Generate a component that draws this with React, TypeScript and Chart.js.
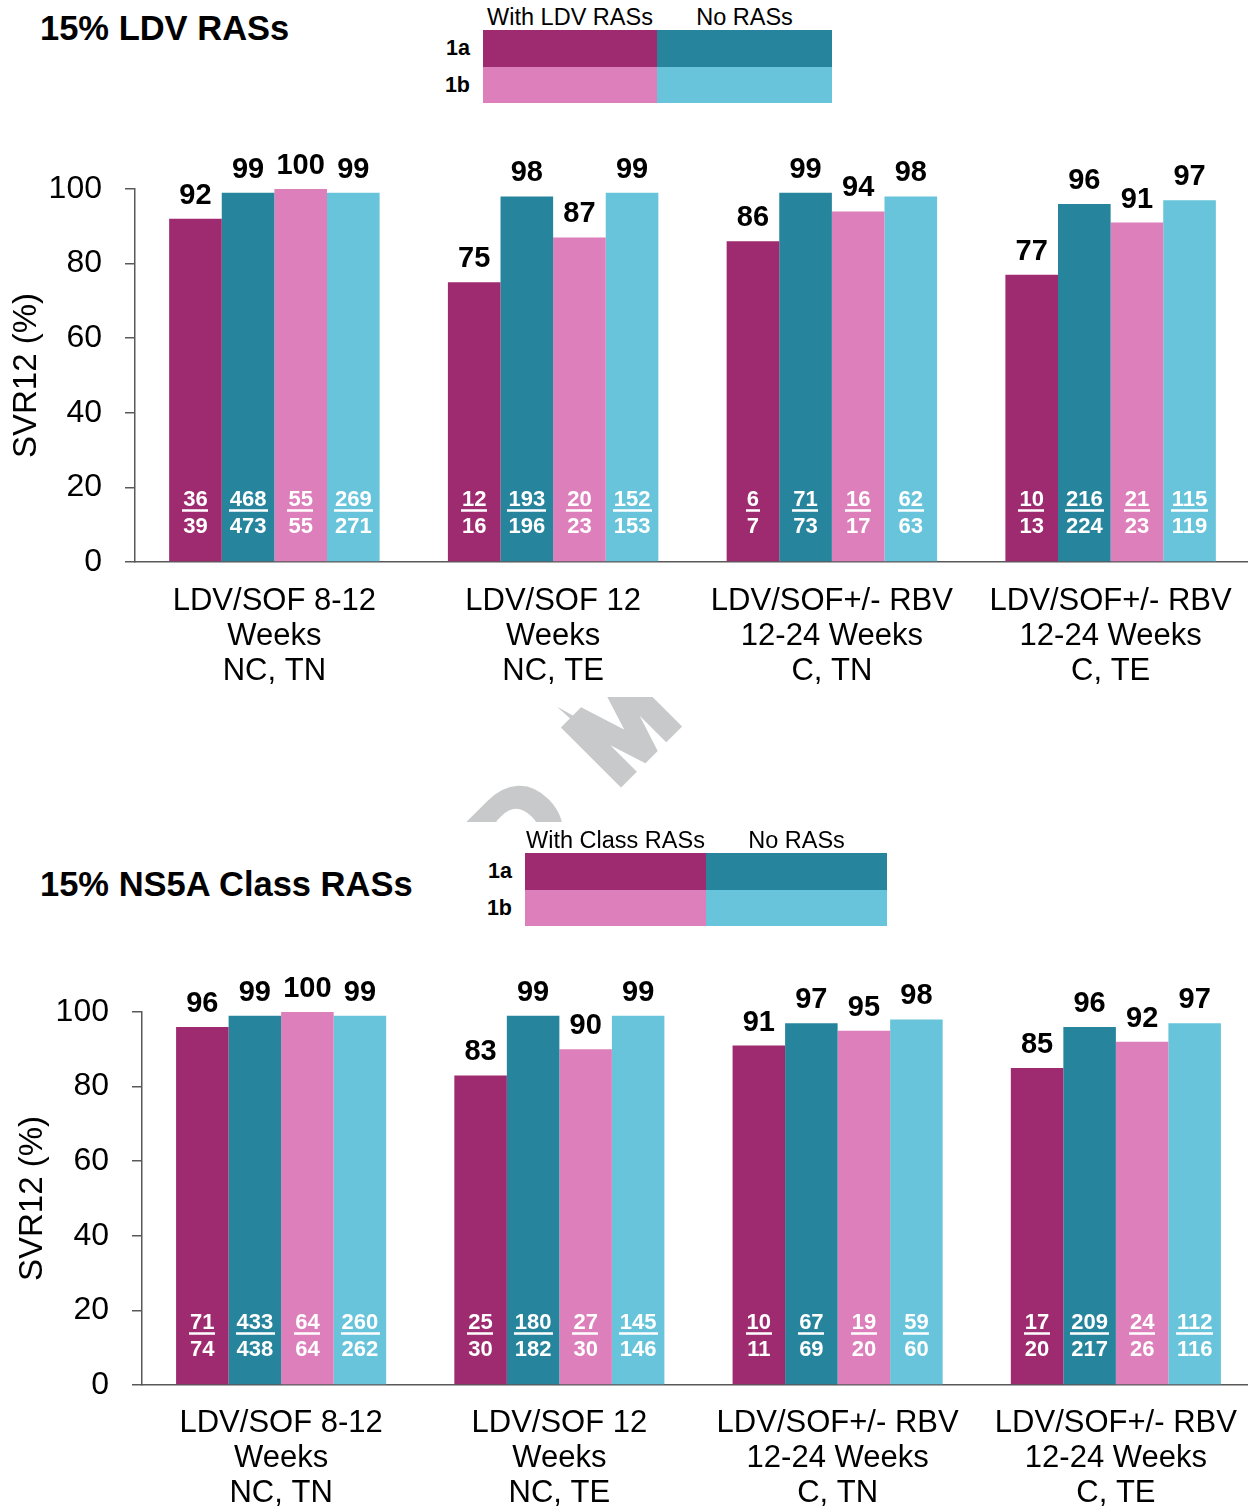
import React, { useEffect, useRef } from 'react';
import { Chart, registerables } from 'chart.js';

Chart.register(...registerables);

const FONT = "'Liberation Sans', Arial, Helvetica, sans-serif";

// ---------- data ----------
const categories: string[][] = [
  ['LDV/SOF 8-12', 'Weeks', 'NC, TN'],
  ['LDV/SOF 12', 'Weeks', 'NC, TE'],
  ['LDV/SOF+/- RBV', '12-24 Weeks', 'C, TN'],
  ['LDV/SOF+/- RBV', '12-24 Weeks', 'C, TE'],
];
const yMin = 0;
const yMax = 100;
const yStep = 20;
const yTitle = 'SVR12 (%)';

// Panel 1: 15% LDV RASs
const ldvTitle = '15% LDV RASs';
const ldvWithLabel = 'With LDV RASs';
const noRasLabel = 'No RASs';
const ldv1aWith = [92, 75, 86, 77];
const ldv1aWithNum = [36, 12, 6, 10];
const ldv1aWithDen = [39, 16, 7, 13];
const ldv1aNo = [99, 98, 99, 96];
const ldv1aNoNum = [468, 193, 71, 216];
const ldv1aNoDen = [473, 196, 73, 224];
const ldv1bWith = [100, 87, 94, 91];
const ldv1bWithNum = [55, 20, 16, 21];
const ldv1bWithDen = [55, 23, 17, 23];
const ldv1bNo = [99, 99, 98, 97];
const ldv1bNoNum = [269, 152, 62, 115];
const ldv1bNoDen = [271, 153, 63, 119];

// Panel 2: 15% NS5A Class RASs
const clsTitle = '15% NS5A Class RASs';
const clsWithLabel = 'With Class RASs';
const cls1aWith = [96, 83, 91, 85];
const cls1aWithNum = [71, 25, 10, 17];
const cls1aWithDen = [74, 30, 11, 20];
const cls1aNo = [99, 99, 97, 96];
const cls1aNoNum = [433, 180, 67, 209];
const cls1aNoDen = [438, 182, 69, 217];
const cls1bWith = [100, 90, 95, 92];
const cls1bWithNum = [64, 27, 19, 24];
const cls1bWithDen = [64, 30, 20, 26];
const cls1bNo = [99, 99, 98, 97];
const cls1bNoNum = [260, 145, 59, 112];
const cls1bNoDen = [262, 146, 60, 116];

const genotypes = ['1a', '1b'];

// ---------- styles ----------
const C1A_WITH = '#9E2A6F';
const C1A_NO = '#26849C';
const C1B_WITH = '#DC7FBA';
const C1B_NO = '#67C4DA';
const AXIS = '#595959';

type Series = { label: string; values: number[]; num: number[]; den: number[]; color: string };

type PanelProps = {
  series: Series[];
  top: number;
  height: number;
  padTop: number;
  yWidth: number;
  xHeight: number;
  padRight: number;
  yTitleX: number;
  xPad: number;
};

const CANVAS_W = 1270;

function BarPanel(props: PanelProps) {
  const ref = useRef<HTMLCanvasElement | null>(null);
  useEffect(() => {
    if (!ref.current) return;
    const { series, padTop, yWidth, xHeight, padRight, yTitleX, xPad } = props;

    const labelPlugin = {
      id: 'barLabels',
      afterDatasetsDraw(chart: any) {
        const ctx = chart.ctx as CanvasRenderingContext2D;
        chart.data.datasets.forEach((ds: any, i: number) => {
          const meta = chart.getDatasetMeta(i);
          const s = series[i];
          meta.data.forEach((bar: any, j: number) => {
            const { x, y, base } = bar.getProps(['x', 'y', 'base'], true);
            ctx.save();
            ctx.textAlign = 'center';
            ctx.textBaseline = 'alphabetic';
            ctx.fillStyle = '#000';
            ctx.font = `bold 29px ${FONT}`;
            ctx.fillText(String(ds.data[j]), x, y - 15);
            ctx.fillStyle = '#fff';
            ctx.font = `bold 22px ${FONT}`;
            const num = String(s.num[j]);
            const den = String(s.den[j]);
            ctx.fillText(num, x, base - 55);
            const w = ctx.measureText(num).width;
            ctx.fillRect(Math.round(x - w / 2 - 1), base - 52, Math.round(w + 2), 2.5);
            ctx.fillText(den, x, base - 28);
            ctx.restore();
          });
        });
      },
      afterDraw(chart: any) {
        const ctx = chart.ctx as CanvasRenderingContext2D;
        const area = chart.chartArea;
        ctx.save();
        ctx.translate(yTitleX, (area.top + area.bottom) / 2);
        ctx.rotate(-Math.PI / 2);
        ctx.textAlign = 'center';
        ctx.textBaseline = 'middle';
        ctx.fillStyle = '#000';
        ctx.font = `33px ${FONT}`;
        ctx.fillText(yTitle, 0, 0);
        ctx.restore();
      },
    };

    const chart = new Chart(ref.current, {
      type: 'bar',
      data: {
        labels: categories,
        datasets: series.map((s) => ({
          label: s.label,
          data: s.values,
          backgroundColor: s.color,
          borderWidth: 0,
          categoryPercentage: 0.755,
          barPercentage: 1,
        })),
      },
      options: {
        responsive: false,
        animation: false,
        events: [],
        layout: { padding: { top: padTop, right: padRight, left: 0, bottom: 0 } },
        plugins: {
          legend: { display: false },
          title: { display: false },
          tooltip: { enabled: false },
        },
        scales: {
          x: {
            grid: { display: false },
            border: { display: true, color: AXIS, width: 1.5 },
            ticks: {
              color: '#000',
              padding: xPad,
              maxRotation: 0,
              autoSkip: false,
              font: { family: FONT, size: 31, lineHeight: 1.13 },
            },
            afterFit: (s: any) => {
              s.height = xHeight;
            },
          },
          y: {
            min: yMin,
            max: yMax,
            grid: { display: true, drawOnChartArea: false, drawTicks: true, tickLength: 10, color: AXIS, lineWidth: 1.5 },
            border: { display: true, color: AXIS, width: 1.5 },
            ticks: {
              stepSize: yStep,
              color: '#000',
              padding: 23,
              font: { family: FONT, size: 32 },
            },
            afterFit: (s: any) => {
              s.width = yWidth;
            },
          },
        },
      },
      plugins: [labelPlugin as any],
    });
    return () => chart.destroy();
  }, []);
  return (
    <canvas
      ref={ref}
      width={CANVAS_W}
      height={props.height}
      style={{ position: 'absolute', left: 0, top: props.top, width: CANVAS_W, height: props.height }}
    />
  );
}

function Legend({ x, y, colW, withText }: { x: number; y: number; colW: number[]; withText: string }) {
  const rowH = 36.5;
  const rows = [
    [C1A_WITH, C1A_NO],
    [C1B_WITH, C1B_NO],
  ];
  const headers = [withText, noRasLabel];
  return (
    <>
      {headers.map((h, i) => (
        <div
          key={'h' + i}
          style={{
            position: 'absolute',
            left: x + (i === 0 ? 0 : colW[0]),
            top: y - 13 - 12,
            width: colW[i],
            height: 24,
            lineHeight: '24px',
            textAlign: 'center',
            fontSize: 23.5,
            color: '#000',
            whiteSpace: 'nowrap',
          }}
        >
          {h}
        </div>
      ))}
      {rows.map((r, ri) => (
        <React.Fragment key={'r' + ri}>
          <div
            style={{
              position: 'absolute',
              left: x - 13 - 40,
              top: y + ri * rowH,
              width: 40,
              height: rowH,
              lineHeight: rowH + 'px',
              textAlign: 'right',
              fontSize: 21.5,
              fontWeight: 'bold',
              color: '#000',
            }}
          >
            {genotypes[ri]}
          </div>
          {r.map((c, ci) => (
            <div
              key={ci}
              style={{
                position: 'absolute',
                left: x + (ci === 0 ? 0 : colW[0]),
                top: y + ri * rowH,
                width: colW[ci],
                height: rowH,
                background: c,
              }}
            />
          ))}
        </React.Fragment>
      ))}
    </>
  );
}

function Watermark() {
  const ref = useRef<HTMLCanvasElement | null>(null);
  useEffect(() => {
    const cv = ref.current;
    if (!cv) return;
    const ctx = cv.getContext('2d');
    if (!ctx) return;
    ctx.clearRect(0, 0, cv.width, cv.height);
    ctx.save();
    ctx.translate(180, 86);
    ctx.rotate(-Math.PI / 4);
    ctx.font = `bold 112px ${FONT}`;
    ctx.fillStyle = '#C8C9CB';
    ctx.strokeStyle = '#C8C9CB';
    ctx.lineWidth = 8;
    ctx.lineJoin = 'miter';
    ctx.fillText('M', -6, 0);
    ctx.strokeText('M', -6, 0);
    ctx.fillText('D', -142, 0);
    ctx.strokeText('D', -142, 0);
    ctx.restore();
  }, []);
  return (
    <canvas
      ref={ref}
      width={320}
      height={125}
      style={{ position: 'absolute', left: 440, top: 697, width: 320, height: 125 }}
    />
  );
}

export default function App() {
  const ldvSeries: Series[] = [
    { label: '1a ' + ldvWithLabel, values: ldv1aWith, num: ldv1aWithNum, den: ldv1aWithDen, color: C1A_WITH },
    { label: '1a ' + noRasLabel, values: ldv1aNo, num: ldv1aNoNum, den: ldv1aNoDen, color: C1A_NO },
    { label: '1b ' + ldvWithLabel, values: ldv1bWith, num: ldv1bWithNum, den: ldv1bWithDen, color: C1B_WITH },
    { label: '1b ' + noRasLabel, values: ldv1bNo, num: ldv1bNoNum, den: ldv1bNoDen, color: C1B_NO },
  ];
  const clsSeries: Series[] = [
    { label: '1a ' + clsWithLabel, values: cls1aWith, num: cls1aWithNum, den: cls1aWithDen, color: C1A_WITH },
    { label: '1a ' + noRasLabel, values: cls1aNo, num: cls1aNoNum, den: cls1aNoDen, color: C1A_NO },
    { label: '1b ' + clsWithLabel, values: cls1bWith, num: cls1bWithNum, den: cls1bWithDen, color: C1B_WITH },
    { label: '1b ' + noRasLabel, values: cls1bNo, num: cls1bNoNum, den: cls1bNoDen, color: C1B_NO },
  ];
  const titleStyle: React.CSSProperties = {
    position: 'absolute',
    left: 40,
    height: 40,
    lineHeight: '40px',
    fontSize: 34.5,
    fontWeight: 'bold',
    color: '#000',
    whiteSpace: 'nowrap',
  };
  return (
    <div
      style={{
        position: 'absolute',
        left: 0,
        top: 0,
        width: 1248,
        height: 1510,
        overflow: 'hidden',
        background: '#fff',
        fontFamily: FONT,
      }}
    >
      <div style={{ ...titleStyle, top: 8 }}>{ldvTitle}</div>
      <Legend x={483} y={30} colW={[174, 175]} withText={ldvWithLabel} />
      <BarPanel series={ldvSeries} top={140} height={560} padTop={49} yWidth={135} xHeight={138} padRight={20} yTitleX={27} xPad={14} />
      <Watermark />
      <div style={{ ...titleStyle, top: 864 }}>{clsTitle}</div>
      <Legend x={525} y={853} colW={[181, 181]} withText={clsWithLabel} />
      <BarPanel series={clsSeries} top={960} height={550} padTop={52} yWidth={142} xHeight={125} padRight={15} yTitleX={33} xPad={13} />
    </div>
  );
}
